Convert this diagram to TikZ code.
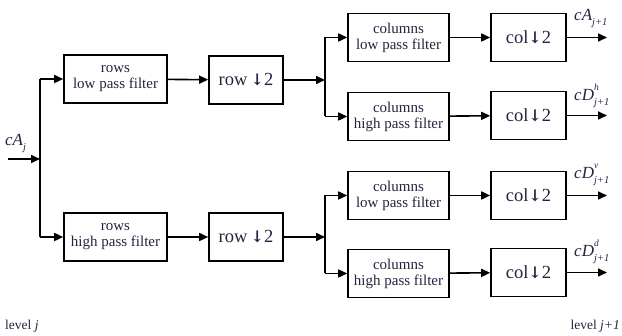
\documentclass[tikz,border=0pt]{standalone}
\usepackage{fontspec}
\setmainfont{Liberation Serif}
\newfontfamily\arrowfont{DejaVu Serif}
\usetikzlibrary{arrows.meta}
\definecolor{ink}{RGB}{34,36,64}
\tikzset{
  blk/.style={draw=black, line width=1.6pt, minimum height=48pt, inner sep=0pt,
    align=center, text=ink, font=\fontsize{15}{16}\selectfont},
  filt/.style={blk, minimum width=103pt},
  down/.style={blk, minimum width=75pt, font=\fontsize{18.5}{20}\selectfont},
  wire/.style={line width=1.6pt, draw=black},
  flow/.style={wire, -{Triangle[length=9pt,width=8pt]}},
  lab/.style={text=ink, inner sep=0pt, font=\fontsize{17}{19}\selectfont\itshape},
}
% superscript over subscript, stacked after a letter
\newcommand{\supsub}[2]{\rlap{\raisebox{10.5pt}{\fontsize{9.5}{9.5}\selectfont #1}}\raisebox{-5pt}{\fontsize{10.5}{10.5}\selectfont #2}}
\newcommand{\sbonly}[1]{\raisebox{-5pt}{\fontsize{10.5}{10.5}\selectfont #1}}
\newcommand{\dnarrow}{{\arrowfont\bfseries\fontsize{16}{18}\selectfont ↓}}
\begin{document}
\begin{tikzpicture}[x=1pt,y=-1pt]
\useasboundingbox (0,0) rectangle (622,336);

% first stage: filtering along rows
\coordinate (in) at (8,159);
\coordinate (s1) at (40,159);
\coordinate (s1t) at (40,79);
\coordinate (s1b) at (40,237);
\node[filt] (rlp) at (115.5,79) {rows\\low pass filter};
\node[filt] (rhp) at (115.5,237) {rows\\high pass filter};
\node[down, minimum width=74pt] (rd1) at (246,80) {row\,\dnarrow2};
\node[down, minimum width=74pt] (rd2) at (246,237) {row\,\dnarrow2};

% second stage: filtering along columns
\coordinate (s2) at (325,80);
\coordinate (s2t) at (325,37.5);
\coordinate (s2b) at (325,116.5);
\coordinate (s3) at (325,237);
\coordinate (s3t) at (325,195.5);
\coordinate (s3b) at (325,273.5);
\node[filt, minimum width=101pt] (c1) at (398.5,37.5) {columns\\low pass filter};
\node[filt, minimum width=101pt] (c2) at (398.5,116.5) {columns\\high pass filter};
\node[filt, minimum width=101pt] (c3) at (398.5,195.5) {columns\\low pass filter};
\node[filt, minimum width=101pt] (c4) at (398.5,273.5) {columns\\high pass filter};
\node[down] (d1) at (528.5,37.5) {col\dnarrow2};
\node[down] (d2) at (528.5,115.5) {col\dnarrow2};
\node[down] (d3) at (528.5,195.5) {col\dnarrow2};
\node[down] (d4) at (528.5,272.5) {col\dnarrow2};
\coordinate (o1) at (607,37.5);
\coordinate (o2) at (607,115.5);
\coordinate (o3) at (607,195.5);
\coordinate (o4) at (607,272.5);

% connectors
\draw[flow] (in) -- (s1);
\draw[wire] (s1t) -- (s1b);
\draw[flow] (s1t) -- (rlp.west);
\draw[flow] (s1b) -- (rhp.west);
\draw[flow] (rlp) -- (rd1);
\draw[flow] (rhp) -- (rd2);
\draw[flow] (rd1.east) -- (s2);
\draw[flow] (rd2.east) -- (s3);
\draw[wire] (s2t) -- (s2b);
\draw[wire] (s3t) -- (s3b);
\draw[flow] (s2t) -- (c1.west);
\draw[flow] (s2b) -- (c2.west);
\draw[flow] (s3t) -- (c3.west);
\draw[flow] (s3b) -- (c4.west);
\foreach \i in {1,...,4} {
  \draw[flow] (c\i) -- (d\i);
  \draw[flow] (d\i.east) -- (o\i);
}

% coefficient labels
\node[lab, anchor=base west] (lin) at (5,146) {cA\sbonly{j}};
\node[lab, anchor=base west] (l1) at (574,21) {cA\sbonly{j+1}};
\node[lab, anchor=base west] (l2) at (574,101) {cD\supsub{h}{j+1}};
\node[lab, anchor=base west] (l3) at (574,179) {cD\supsub{v}{j+1}};
\node[lab, anchor=base west] (l4) at (574,257) {cD\supsub{d}{j+1}};

% level captions
\node[text=ink, anchor=base west, inner sep=0pt, font=\fontsize{13.5}{14}\selectfont] (lvj) at (5,330) {level \textit{j}};
\node[text=ink, anchor=base east, inner sep=0pt, font=\fontsize{13.5}{14}\selectfont] (lvj1) at (620,330) {level \textit{j+1}};
\end{tikzpicture}
\end{document}
